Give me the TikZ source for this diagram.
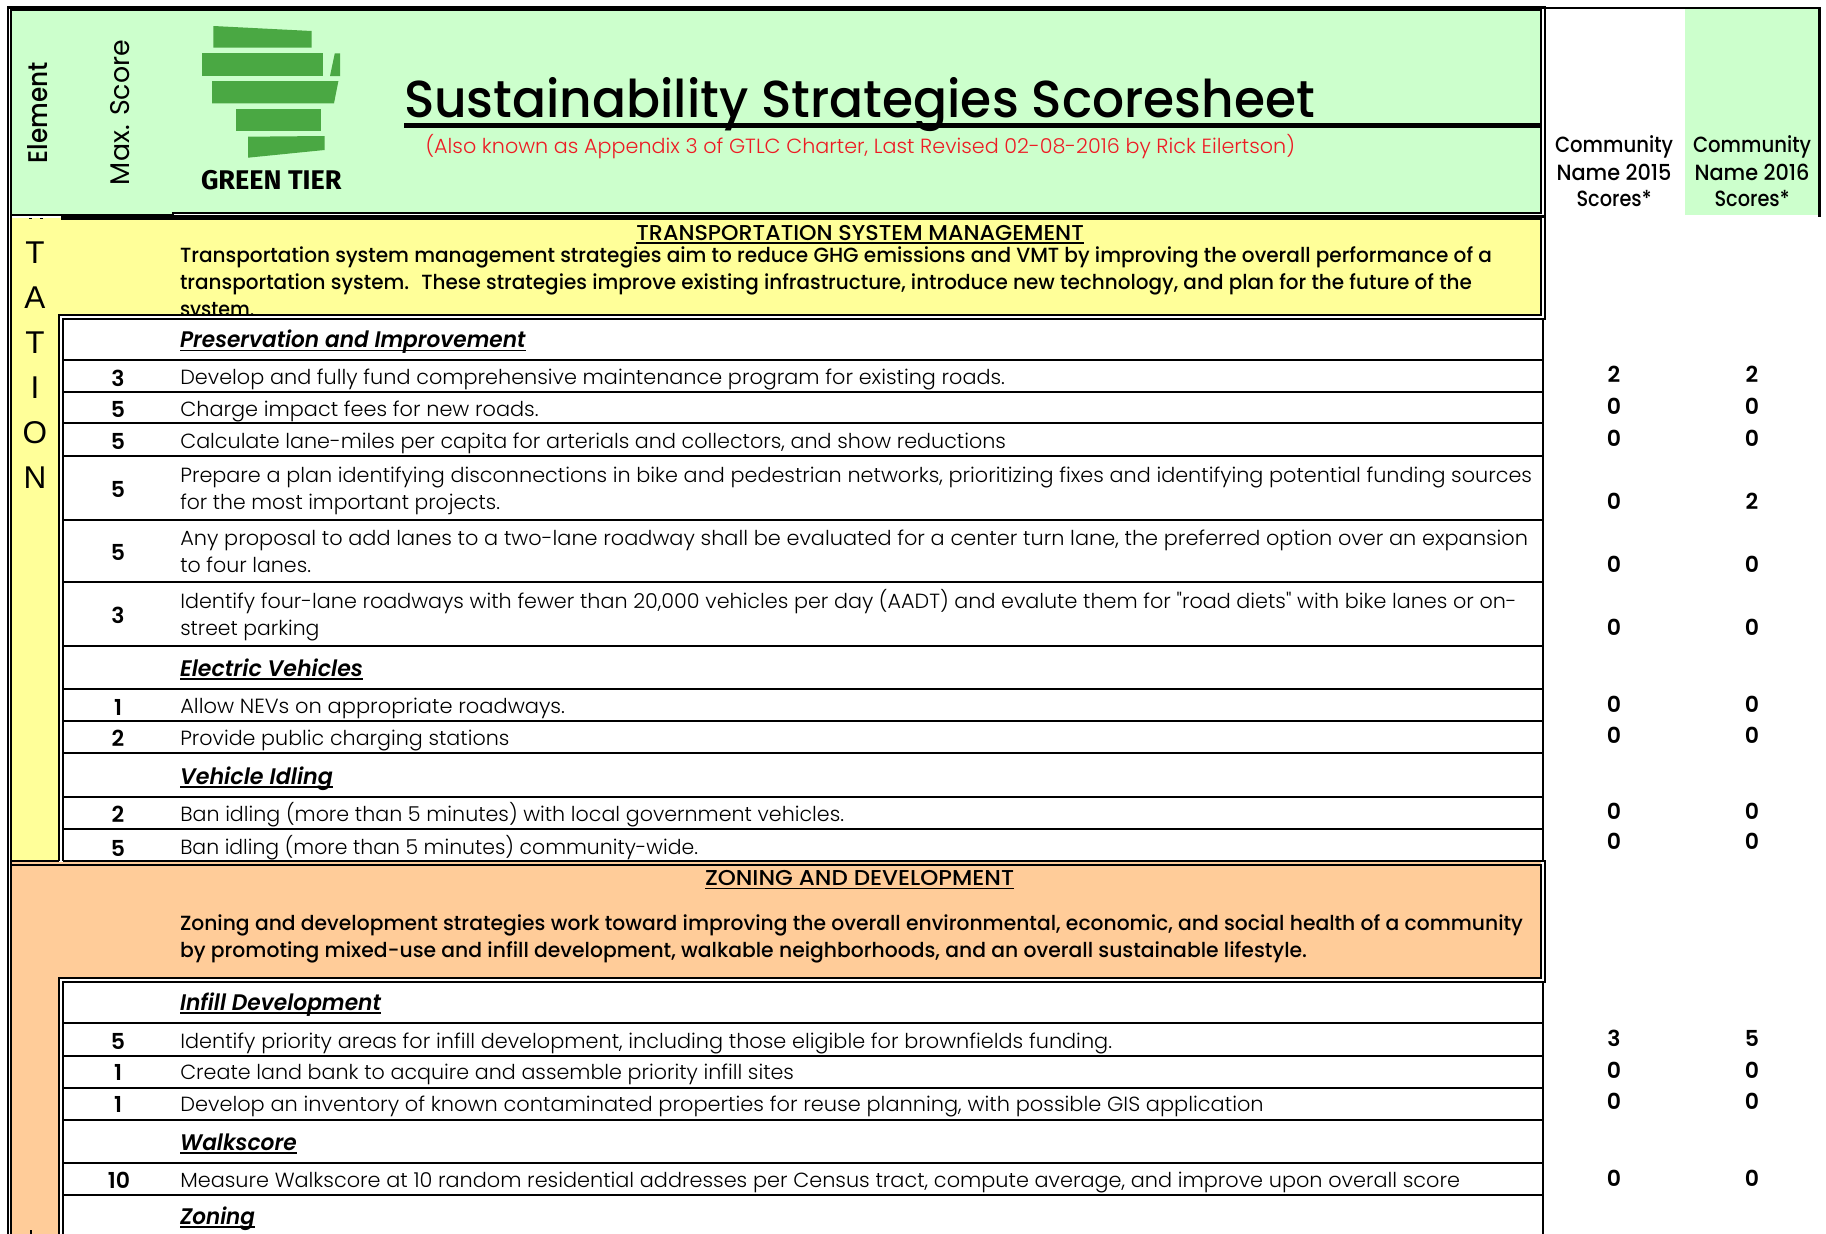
\documentclass[tikz,border=0pt]{standalone}
\usepackage{graphicx}
\usepackage{fontspec}
\setmainfont{Poppins}
\newfontfamily\lgtf{Poppins Light}
\newfontfamily\medf{Poppins Medium}
\newfontfamily\regf{Poppins}
\newfontfamily\sbf{Poppins SemiBold}
\newfontfamily\hdf{Poppins SemiBold Italic}
\newfontfamily\sansf{Liberation Sans}
\newfontfamily\logof{Fira Sans}
\definecolor{hgreen}{HTML}{CCFFCC}
\definecolor{hyellow}{HTML}{FFFF99}
\definecolor{horange}{HTML}{FFCC99}
\definecolor{lgreen}{HTML}{4AA843}
\definecolor{hred}{HTML}{ED1C24}
\newcommand\bodyf{\lgtf\fontsize{20.5}{24}\selectfont}
\newcommand\boldf{\medf\fontsize{20.5}{24}\selectfont}
\newcommand\commf{\medf\fontsize{22}{26}\selectfont}
\newcommand\headf{\hdf\fontsize{22.5}{26}\selectfont}
\newcommand\secf{\medf\fontsize{21.5}{25}\selectfont}
\newcommand\numf{\sbf\fontsize{22}{25}\selectfont}
\newcounter{tn}
\newcommand\Lt[5]{\stepcounter{tn}\pgfmathsetmacro\myw{#4-#2}\node[txt] (t\thetn) at (#2,#3) {\resizebox{\myw pt}{\height}{#1#5}};}
\newcommand\Ct[5]{\stepcounter{tn}\node[ctxt] (t\thetn) at (#2,#3) {\resizebox{#4pt}{\height}{#1#5}};}
\newcommand\Nm[3]{\stepcounter{tn}\node[ctxt] (t\thetn) at (#1,#2) {\numf #3};}
\newcommand\Ltr[2]{\stepcounter{tn}\node[ctxt] (t\thetn) at (35,#1) {\sansf\fontsize{31.5}{36}\selectfont #2};}
\tikzset{
  txt/.style={anchor=base west,inner sep=0pt,outer sep=0pt},
  ctxt/.style={anchor=base,inner sep=0pt,outer sep=0pt},
  frame/.style={line width=2.1pt,line cap=butt,line join=miter},
  rowline/.style={line width=2pt},
  uline/.style={line width=1.9pt},
  logo/.style={fill=lgreen,draw=none}
}
\begin{document}
\begin{tikzpicture}[x=1pt,y=-1pt]
\useasboundingbox (0,0) rectangle (1826,1234);
% fills
\fill[hgreen] (11,10) rectangle (1541,214);
\fill[hgreen] (1685,9) rectangle (1818,215);
\fill[hyellow] (11,218) rectangle (1541,861);
\fill[horange] (11,862) rectangle (1541,1234);
\fill[white] (11,216) rectangle (61,218.2);
% clipped line of the yellow paragraph
\Lt{\boldf}{180}{316}{254.5}{system.}
% white tables
\fill[white] (59,315) rectangle (1545,861);
\fill[white] (59,978) rectangle (1545,1234);
% logo
\fill[logo] (213.4,26) -- (311.6,31) -- (311.6,47.7) -- (213.4,47.7) -- cycle;
\fill[logo] (201.8,53.3) -- (322.8,53.3) -- (322.8,76) -- (201.8,76) -- cycle;
\fill[logo] (334.8,53.3) -- (340.2,53.3) -- (340.2,76) -- (330,76) -- cycle;
\fill[logo] (212,81) -- (338.4,81) -- (334,103.3) -- (212,103.3) -- cycle;
\fill[logo] (236,108.7) -- (321.4,108.7) -- (321.4,131) -- (236,131) -- cycle;
\fill[logo] (248,136.7) -- (324.5,136) -- (324.5,150) -- (248,157.7) -- cycle;
\Lt{\logof\bfseries\fontsize{27}{30}\selectfont}{201}{189}{341.5}{GREEN TIER}
% header
\stepcounter{tn}\node[txt,rotate=90] (t\thetn) at (47,163) {\resizebox{101pt}{\height}{\medf\fontsize{27}{30}\selectfont Element}};
\stepcounter{tn}\node[txt,rotate=90] (t\thetn) at (129.5,185) {\resizebox{145pt}{\height}{\regf\fontsize{27}{30}\selectfont Max. Score}};
\Lt{\medf\fontsize{52}{60}\selectfont}{404}{117.3}{1315}{Sustainability Strategies Scoresheet}
\draw[line width=4.6pt] (404,125.5) -- (1542,125.5);
\Lt{\lgtf\fontsize{20.5}{24}\selectfont\color{hred}}{425.5}{153}{1295}{(Also known as Appendix 3 of GTLC Charter, Last Revised 02-08-2016 by Rick Eilertson)}
\Ct{\commf}{1614}{152.5}{118}{Community}
\Ct{\commf}{1614}{180}{115}{Name 2015}
\Ct{\commf}{1614}{206.5}{75}{Scores*}
\Ct{\commf}{1752}{152.5}{118}{Community}
\Ct{\commf}{1752}{180}{115}{Name 2016}
\Ct{\commf}{1752}{206.5}{75}{Scores*}
% left column letters
\Ltr{263.5}{T}\Ltr{308.5}{A}\Ltr{353.5}{T}\Ltr{398.5}{I}\Ltr{443.5}{O}\Ltr{488}{N}
\fill (28.5,217.6) rectangle (31.5,218.8);
\fill (40.2,217.6) rectangle (43.2,218.8);
\fill (29.8,1230) rectangle (32.4,1234);
% yellow section
\Lt{\secf}{636.4}{240}{1083.8}{TRANSPORTATION SYSTEM MANAGEMENT}
\draw[uline] (636.4,243) -- (1083.8,243);
\Lt{\boldf}{180}{262}{1492}{Transportation system management strategies aim to reduce GHG emissions and VMT by improving the overall performance of a}
\Lt{\boldf}{180}{289}{1472}{transportation system.~ These strategies improve existing infrastructure, introduce new technology, and plan for the future of the}
\Lt{\headf}{180}{347.3}{525.5}{Preservation and Improvement}
\draw[uline] (180,350.5) -- (525.5,350.5);
\Lt{\headf}{180}{676}{363}{Electric Vehicles}
\draw[uline] (180,679.2) -- (363,679.2);
\Lt{\headf}{180}{784}{333}{Vehicle Idling}
\draw[uline] (180,787.2) -- (333,787.2);
\Lt{\bodyf}{180.3}{384}{1005}{Develop and fully fund comprehensive maintenance program for existing roads.}
\Lt{\bodyf}{180.3}{416}{538.6}{Charge impact fees for new roads.}
\Lt{\bodyf}{180.3}{448}{1006}{Calculate lane-miles per capita for arterials and collectors, and show reductions}
\Lt{\bodyf}{180.3}{482.2}{1532}{Prepare a plan identifying disconnections in bike and pedestrian networks, prioritizing fixes and identifying potential funding sources}
\Lt{\bodyf}{180.3}{509}{500}{for the most important projects.}
\Lt{\bodyf}{180.3}{545}{1528}{Any proposal to add lanes to a two-lane roadway shall be evaluated for a center turn lane, the preferred option over an expansion}
\Lt{\bodyf}{180.3}{572}{311}{to four lanes.}
\Lt{\bodyf}{180.3}{608}{1516.6}{Identify four-lane roadways with fewer than 20,000 vehicles per day (AADT) and evalute them for "road diets" with bike lanes or on-}
\Lt{\bodyf}{180.3}{635}{319.4}{street parking}
\Lt{\bodyf}{180.3}{713.3}{565}{Allow NEVs on appropriate roadways.}
\Lt{\bodyf}{180.3}{745}{509.4}{Provide public charging stations}
\Lt{\bodyf}{180.3}{821}{844}{Ban idling (more than 5 minutes) with local government vehicles.}
\Lt{\bodyf}{180.3}{854}{698}{Ban idling (more than 5 minutes) community-wide.}
% orange section
\Lt{\secf}{705}{885.7}{1014}{ZONING AND DEVELOPMENT}
\draw[uline] (705,888.5) -- (1014,888.5);
\Lt{\boldf}{180}{930}{1523}{Zoning and development strategies work toward improving the overall environmental, economic, and social health of a community}
\Lt{\boldf}{180}{957.3}{1307}{by promoting mixed-use and infill development, walkable neighborhoods, and an overall sustainable lifestyle.}
\Lt{\headf}{180}{1010}{381}{Infill Development}
\draw[uline] (180,1013.2) -- (381,1013.2);
\Lt{\headf}{180}{1150}{296.7}{Walkscore}
\draw[uline] (180,1153.2) -- (296.7,1153.2);
\Lt{\headf}{180}{1224}{255}{Zoning}
\draw[uline] (180,1227.2) -- (255,1227.2);
\Lt{\bodyf}{180.3}{1048}{1112}{Identify priority areas for infill development, including those eligible for brownfields funding.}
\Lt{\bodyf}{180.3}{1079}{794}{Create land bank to acquire and assemble priority infill sites}
\Lt{\bodyf}{180.3}{1111.7}{1263.6}{Develop an inventory of known contaminated properties for reuse planning, with possible GIS application}
\Lt{\bodyf}{180.3}{1187}{1460}{Measure Walkscore at 10 random residential addresses per Census tract, compute average, and improve upon overall score}
% max scores
\Nm{118}{386}{3}\Nm{118}{417}{5}\Nm{118}{449.3}{5}\Nm{118}{497}{5}\Nm{118}{560}{5}\Nm{118}{623}{3}
\Nm{118}{715}{1}\Nm{118}{746.7}{2}\Nm{118}{822.7}{2}\Nm{118}{856}{5}
\Nm{118}{1049}{5}\Nm{118}{1080.7}{1}\Nm{118}{1112.7}{1}\Nm{119}{1188.7}{10}
% community scores
\Nm{1614}{382}{2}\Nm{1752}{382}{2}
\Nm{1614}{414}{0}\Nm{1752}{414}{0}
\Nm{1614}{446}{0}\Nm{1752}{446}{0}
\Nm{1614}{509}{0}\Nm{1752}{509}{2}
\Nm{1614}{572}{0}\Nm{1752}{572}{0}
\Nm{1614}{635}{0}\Nm{1752}{635}{0}
\Nm{1614}{712}{0}\Nm{1752}{712}{0}
\Nm{1614}{743.5}{0}\Nm{1752}{743.5}{0}
\Nm{1614}{819.5}{0}\Nm{1752}{819.5}{0}
\Nm{1614}{849.5}{0}\Nm{1752}{849.5}{0}
\Nm{1614}{1046}{3}\Nm{1752}{1046}{5}
\Nm{1614}{1078}{0}\Nm{1752}{1078}{0}
\Nm{1614}{1109.5}{0}\Nm{1752}{1109.5}{0}
\Nm{1614}{1186}{0}\Nm{1752}{1186}{0}
% frames
\draw[frame] (8,1234) -- (8,7.5) -- (1545,7.5) -- (1545,216.5) -- (173,216.5);
\draw[frame] (11,1234) -- (11,10.3) -- (1541,10.3) -- (1541,213) -- (173,213) -- (173,218);
\draw[frame] (11,215) -- (173,215);
\draw[frame] (61,217) -- (173,217);
\draw[frame] (1545,8.3) -- (1819.5,8.3) -- (1819.5,217);
% yellow box and table
\draw[frame] (61,219.3) -- (1541,219.3) -- (1541,315.2) -- (59,315.2) -- (59,861);
\draw[frame] (63,861) -- (63,319) -- (1545,319) -- (1545,216);
\draw[frame] (1543,319) -- (1543,861);
\draw[frame] (11,861) -- (59,861);
\draw[frame] (63,861) -- (1545,861) -- (1545,982) -- (63,982) -- (63,1234);
\draw[frame] (11,864.6) -- (1541,864.6) -- (1541,978.2) -- (59,978.2) -- (59,1234);
\draw[frame] (1543,982) -- (1543,1234);
% row lines
\foreach \y/\n in {360/a,391.7/b,423.3/c,455.7/d,520/e,582/f,646/g,688.7/h,720.7/i,752.7/j,796.7/k,828.7/l,1023.3/m,1055.7/n,1087.7/o,1120/p,1162.7/q,1194.7/r}{
  \coordinate (l\n) at (63,\y);
  \coordinate (r\n) at (1543,\y);
  \draw[rowline] (l\n) -- (r\n);
}
\end{tikzpicture}
\end{document}
